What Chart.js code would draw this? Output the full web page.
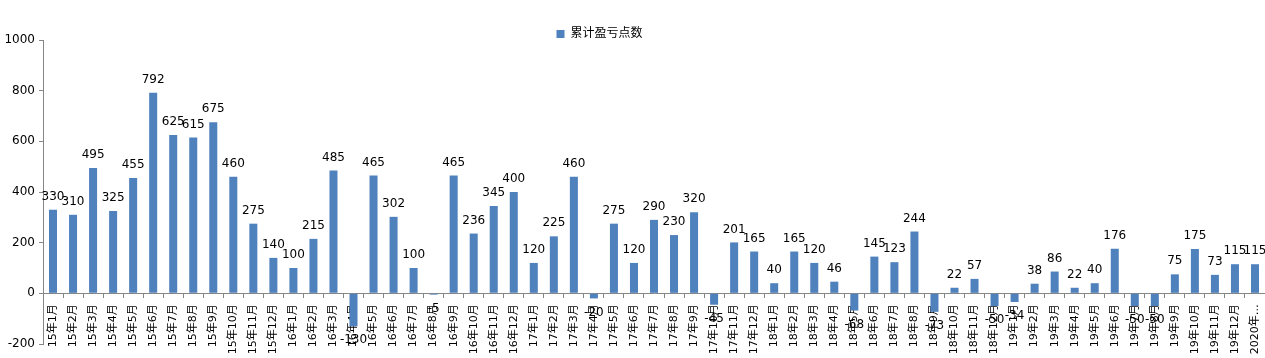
<!DOCTYPE html>
<html><head><meta charset="utf-8">
<script src="https://cdn.jsdelivr.net/npm/chart.js@4/dist/chart.umd.min.js"></script>
<style>html,body{margin:0;padding:0;background:#fff}#wrap{width:1265px;height:358px;position:relative}</style>
</head><body><div id="wrap"><canvas id="c"></canvas></div>
<script>
const categories = [
  '15年1月','15年2月','15年3月','15年4月','15年5月','15年6月','15年7月','15年8月','15年9月','15年10月','15年11月','15年12月',
  '16年1月','16年2月','16年3月','16年4月','16年5月','16年6月','16年7月','16年8月','16年9月','16年10月','16年11月','16年12月',
  '17年1月','17年2月','17年3月','17年4月','17年5月','17年6月','17年7月','17年8月','17年9月','17年10月','17年11月','17年12月',
  '18年1月','18年2月','18年3月','18年4月','18年5月','18年6月','18年7月','18年8月','18年9月','18年10月','18年11月','18年12月',
  '19年1月','19年2月','19年3月','19年4月','19年5月','19年6月','19年7月','19年8月','19年9月','19年10月','19年11月','19年12月',
  '2020年…'
];
const values = [
  330,310,495,325,455,792,625,615,675,460,275,140,
  100,215,485,-130,465,302,100,-5,465,236,345,400,
  120,225,460,-20,275,120,290,230,320,-45,201,165,
  40,165,120,46,-68,145,123,244,-73,22,57,-50,
  -34,38,86,22,40,176,-50,-50,75,175,73,115,
  115
];
const yMin = -200, yMax = 1000, yStep = 200;
const seriesName = '累计盈亏点数';

const FONT = '"DejaVu Sans", "Noto Sans CJK SC", sans-serif';
const BLUE = '#4F81BD';
const AXIS = '#868686';

const valueLabels = {
  id: 'valueLabels',
  afterDraw(chart) {
    const ctx = chart.ctx;
    const meta = chart.getDatasetMeta(0);
    ctx.save();
    ctx.font = '12px ' + FONT;
    ctx.fillStyle = '#000';
    ctx.textAlign = 'center';
    ctx.textBaseline = 'middle';
    meta.data.forEach((bar, i) => {
      const v = values[i];
      const y = v >= 0 ? bar.y - 13 : bar.y + 14;
      ctx.fillText(String(v), bar.x, y);
    });
    ctx.restore();
  }
};
const legendShift = {
  id: 'legendShift',
  afterLayout(chart) {
    const lg = chart.legend;
    if (!lg) return;
    lg.left -= 33; lg.right -= 33;
    lg.top += 10; lg.bottom += 10;
  }
};

new Chart(document.getElementById('c'), {
  type: 'bar',
  data: {
    labels: categories,
    datasets: [{
      label: seriesName,
      data: values,
      backgroundColor: BLUE,
      borderWidth: 0,
      barPercentage: 0.4,
      categoryPercentage: 1.0
    }]
  },
  options: {
    responsive: true,
    maintainAspectRatio: false,
    animation: false,
    layout: { padding: { top: 8, bottom: 14, left: 0, right: 0 } },
    plugins: {
      legend: {
        display: true,
        position: 'top',
        labels: { boxWidth: 8, boxHeight: 8, padding: 10, color: '#000', font: { size: 12, family: FONT } }
      },
      tooltip: { enabled: false }
    },
    scales: {
      x: {
        position: { y: 0 },
        z: 1,
        offset: true,
        afterFit(scale) { scale.paddingLeft = 0; scale.paddingRight = 0; },
        grid: { display: true, drawOnChartArea: false, drawTicks: true, tickLength: 4, color: AXIS, offset: true },
        border: { display: true, color: AXIS },
        ticks: { autoSkip: false, maxRotation: 90, minRotation: 90, padding: 7, color: '#000', font: { size: 11, family: FONT } }
      },
      y: {
        min: yMin, max: yMax,
        afterFit(scale) { scale.width = 43; },
        grid: { display: true, drawOnChartArea: false, drawTicks: true, tickLength: 4, color: AXIS },
        border: { display: true, color: AXIS },
        ticks: { stepSize: yStep, padding: 4, color: '#000', font: { size: 12, family: FONT }, callback: (v) => String(v) }
      }
    }
  },
  plugins: [valueLabels, legendShift]
});
</script>
</body></html>
